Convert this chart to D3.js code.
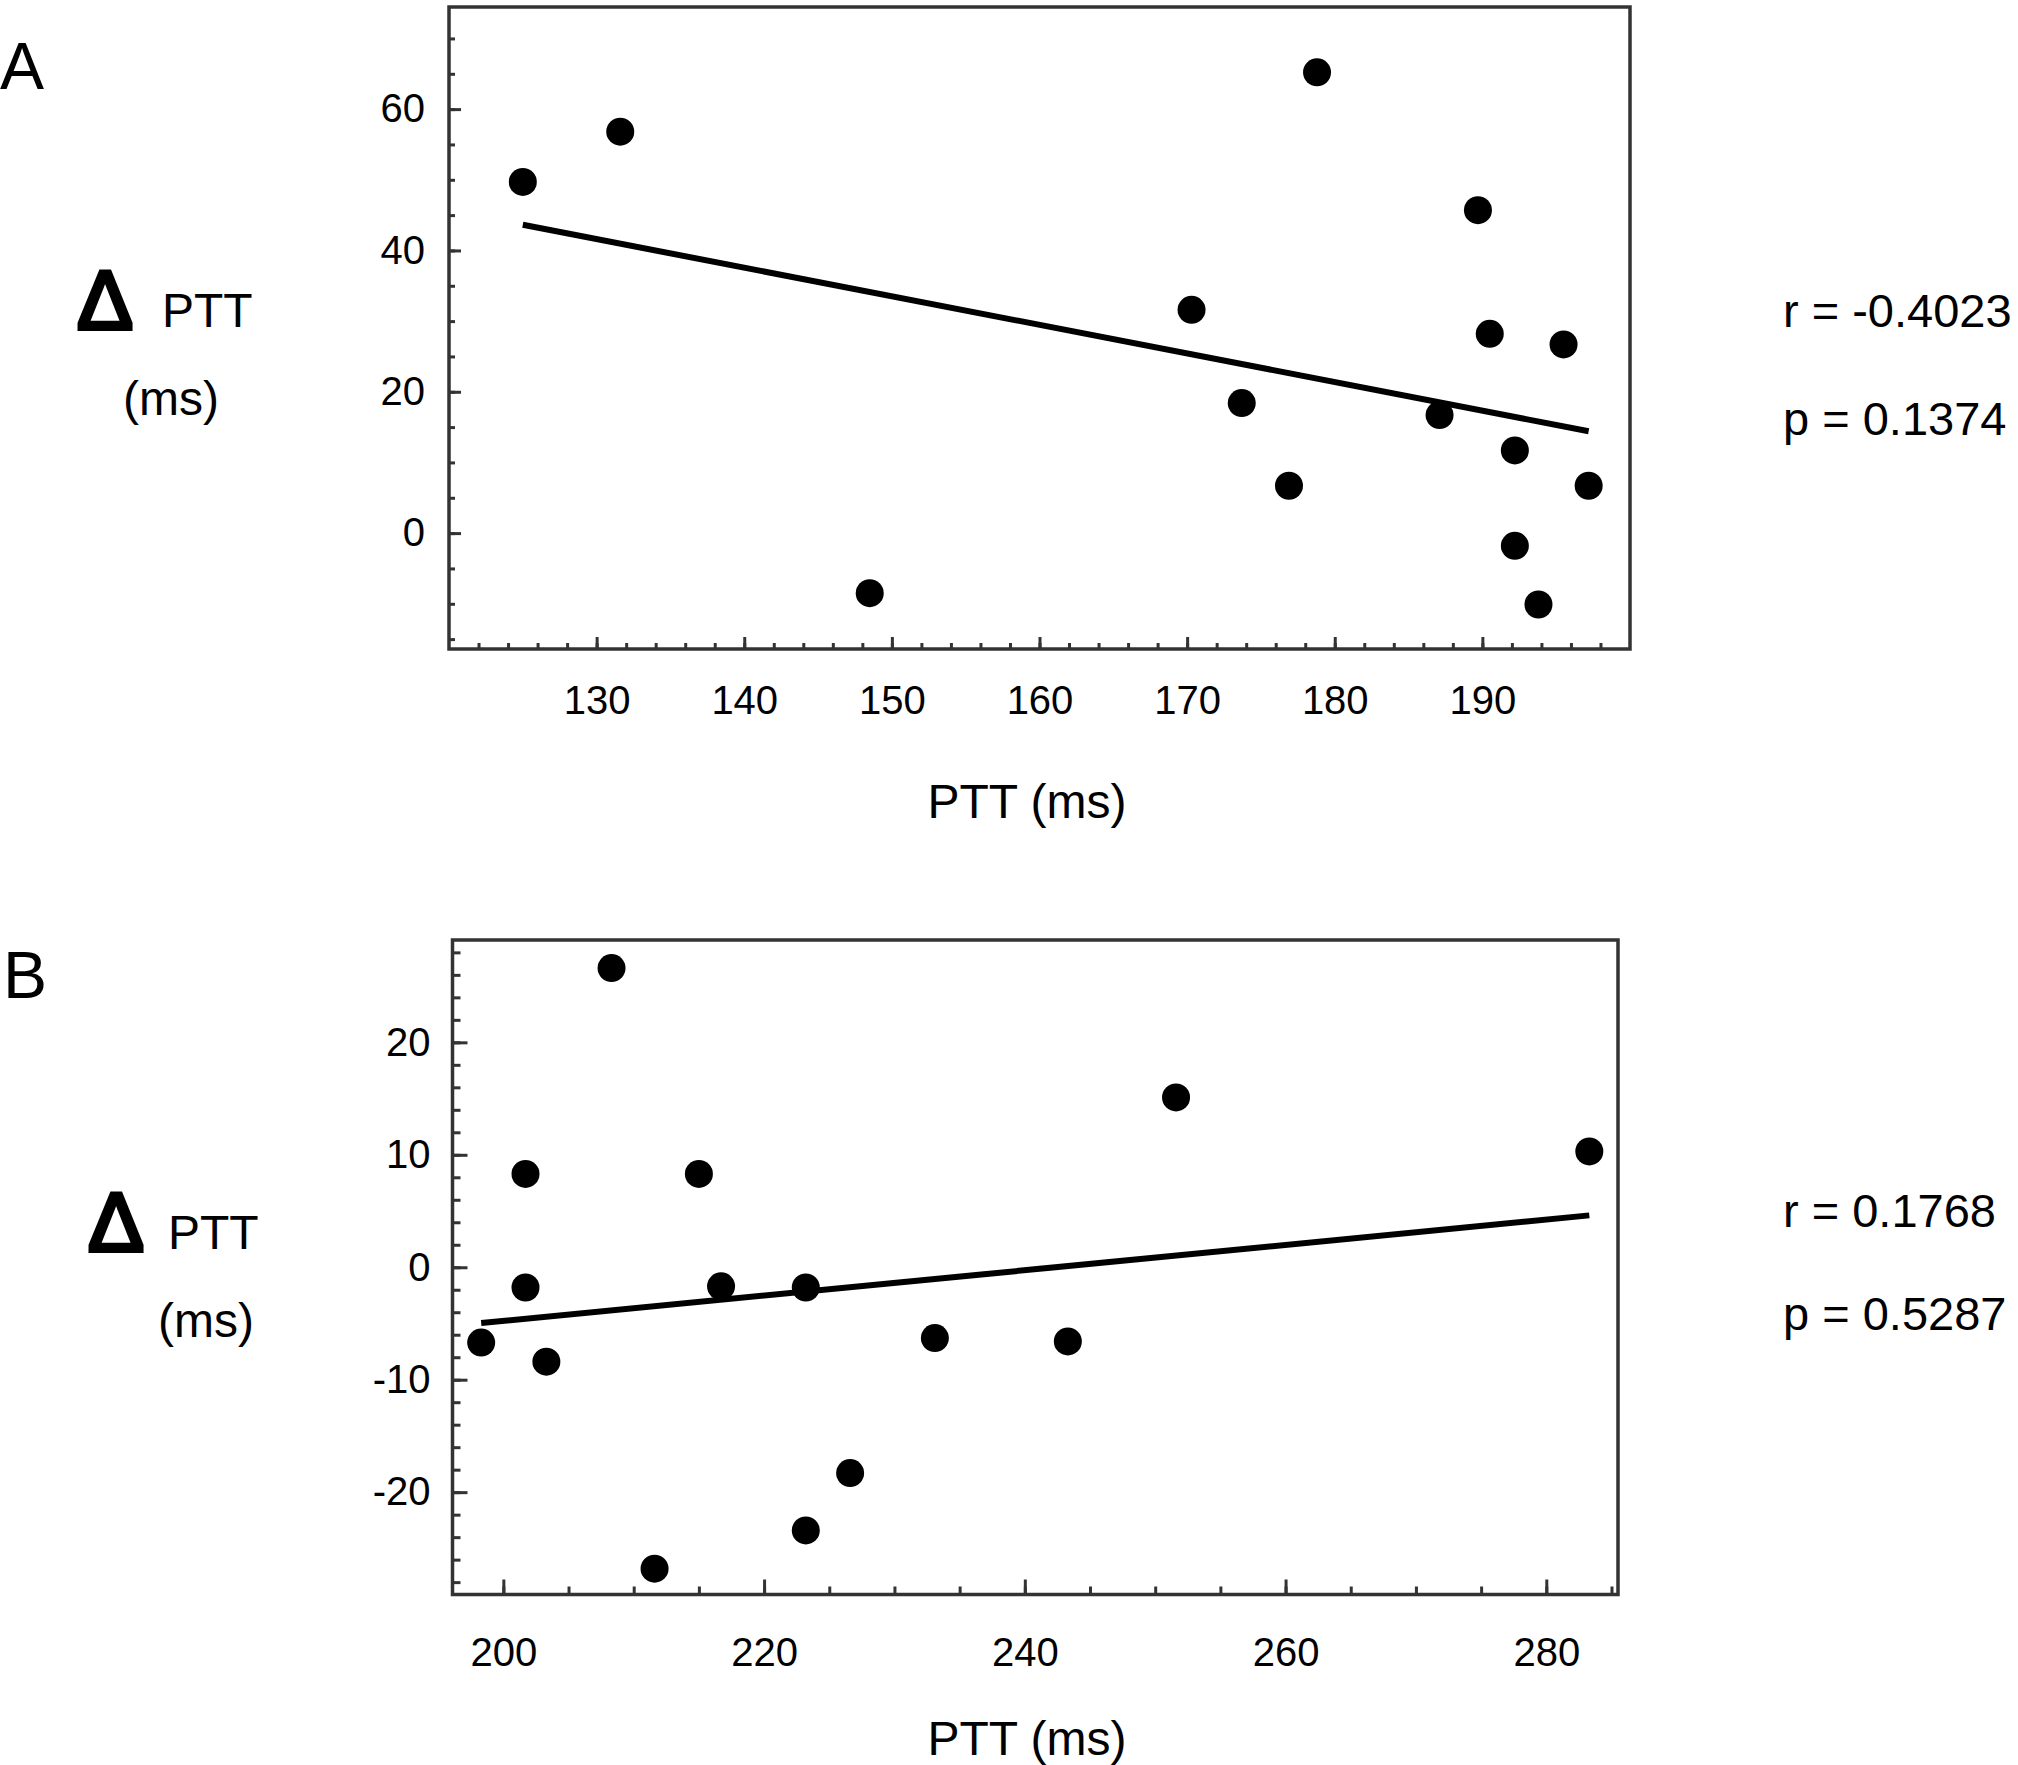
<!DOCTYPE html>
<html>
<head>
<meta charset="utf-8">
<script src="https://cdn.jsdelivr.net/npm/d3@7"></script>
<style>
  body { margin: 0; background: #fff; }
  text { font-family: "Liberation Sans", Arial, sans-serif; fill: #000; }
</style>
</head>
<body>
<script>
// panel A data
var pttA = [125.0, 131.6, 148.5, 170.3, 173.7, 176.9, 178.8, 187.1, 189.7, 190.5, 192.2, 192.2, 193.8, 195.5, 197.2];
var dpttA = [49.7, 56.8, -8.5, 31.6, 18.4, 6.7, 65.2, 16.7, 45.7, 28.2, 11.7, -1.8, -10.1, 26.7, 6.7];
var xTicksA = [130, 140, 150, 160, 170, 180, 190];
var yTicksA = [0, 20, 40, 60];
var statsA = ["r = -0.4023", "p = 0.1374"];

// panel B data
var pttB = [198.3, 201.7, 201.7, 203.3, 208.3, 211.6, 215.0, 216.7, 223.2, 223.2, 226.6, 233.1, 243.3, 251.6, 283.3];
var dpttB = [-6.7, 8.3, -1.8, -8.4, 26.6, -26.8, 8.3, -1.7, -1.8, -23.4, -18.3, -6.3, -6.6, 15.1, 10.3];
var xTicksB = [200, 220, 240, 260, 280];
var yTicksB = [-20, -10, 0, 10, 20];
var statsB = ["r = 0.1768", "p = 0.5287"];

var w = 2018;
var h = 1765;

var svg = d3.select("body").append("svg").attr("width", w).attr("height", h);

function fit(xs, ys) {
  var mx = d3.mean(xs), my = d3.mean(ys);
  var sxy = d3.sum(xs, function (d, i) { return (d - mx) * (ys[i] - my); });
  var sxx = d3.sum(xs, function (d) { return (d - mx) * (d - mx); });
  var b = sxy / sxx;
  return function (x) { return my + b * (x - mx); };
}

// plain hyphen for negatives, like the original figure
function plain(d) { return String(d); }

function panel(p) {
  var xScale = d3.scaleLinear().domain(p.xDomain).range([p.left, p.right]);
  var yScale = d3.scaleLinear().domain(p.yDomain).range([p.bottom, p.top]);
  var g = svg.append("g");

  // minor ticks
  g.append("g")
    .attr("transform", "translate(0," + p.bottom + ")")
    .call(d3.axisBottom(xScale).tickValues(p.xMinor).tickSize(-p.minor).tickFormat(""));
  g.append("g")
    .attr("transform", "translate(" + p.left + ",0)")
    .call(d3.axisLeft(yScale).tickValues(p.yMinor).tickSize(-p.minor).tickFormat(""));

  // major ticks
  var xa = g.append("g")
    .attr("transform", "translate(0," + p.bottom + ")")
    .call(d3.axisBottom(xScale).tickValues(p.xTicks).tickSize(-p.major).tickPadding(p.xPad).tickFormat(plain));
  var ya = g.append("g")
    .attr("transform", "translate(" + p.left + ",0)")
    .call(d3.axisLeft(yScale).tickValues(p.yTicks).tickSize(-p.major).tickPadding(p.yPad).tickFormat(plain));

  g.selectAll(".domain").remove();
  g.selectAll(".tick line").attr("stroke", "#333").attr("stroke-width", 3);
  xa.selectAll("text").attr("font-size", 40).attr("font-family", null);
  ya.selectAll("text").attr("font-size", 40).attr("font-family", null);

  g.append("rect")
    .attr("x", p.left)
    .attr("y", p.top)
    .attr("width", p.right - p.left)
    .attr("height", p.bottom - p.top)
    .attr("fill", "none")
    .attr("stroke", "#333")
    .attr("stroke-width", 3.5);

  // regression line over the data range
  var f = fit(p.xs, p.ys);
  var ext = d3.extent(p.xs);
  g.append("path")
    .attr("d", d3.line()
      .x(function (d) { return xScale(d); })
      .y(function (d) { return yScale(f(d)); })(ext))
    .attr("stroke", "#000")
    .attr("stroke-width", 6)
    .attr("fill", "none");

  g.selectAll("circle")
    .data(p.xs)
    .enter()
    .append("circle")
    .attr("cx", function (d) { return xScale(d); })
    .attr("cy", function (d, i) { return yScale(p.ys[i]); })
    .attr("r", 14)
    .attr("fill", "#000");

  // labels
  g.append("text").attr("x", p.letterX).attr("y", p.letterY).attr("font-size", 66).text(p.letter);
  g.append("text").attr("x", p.deltaX).attr("y", p.deltaY - 2).attr("font-size", 84)
    .attr("stroke", "#000").attr("stroke-width", 4).attr("stroke-linejoin", "miter")
    .attr("text-anchor", "middle").text("Δ");
  g.append("text").attr("x", p.pttX).attr("y", p.deltaY - 4).attr("font-size", 48).text("PTT");
  g.append("text").attr("x", p.msX).attr("y", p.msY).attr("font-size", 48).text("(ms)");
  g.append("text").attr("x", 1027).attr("y", p.xLabelY).attr("font-size", 48)
    .attr("text-anchor", "middle").text("PTT (ms)");

  g.selectAll(".stat")
    .data(p.stats)
    .enter()
    .append("text")
    .attr("class", "stat")
    .attr("x", 1783)
    .attr("y", function (d, i) { return p.statY[i]; })
    .attr("font-size", 47)
    .text(function (d) { return d; });
}

panel({
  xs: pttA, ys: dpttA, xTicks: xTicksA, yTicks: yTicksA, stats: statsA,
  xMinor: d3.range(122, 200, 2), yMinor: d3.range(-15, 75, 5),
  xDomain: [120, 200], yDomain: [-16.4, 74.45],
  left: 449, right: 1630, top: 7, bottom: 649,
  major: 12, minor: 6, xPad: 37, yPad: 24,
  letter: "A", letterX: 0, letterY: 89,
  deltaX: 105, deltaY: 331, pttX: 162, msX: 123, msY: 415,
  xLabelY: 818, statY: [327, 435]
});

panel({
  xs: pttB, ys: dpttB, xTicks: xTicksB, yTicks: yTicksB, stats: statsB,
  xMinor: d3.range(200, 286, 5), yMinor: d3.range(-28, 30, 2),
  xDomain: [196.1, 285.5], yDomain: [-29.1, 29.1],
  left: 452.5, right: 1618, top: 940, bottom: 1594.5,
  major: 15, minor: 8, xPad: 43, yPad: 22,
  letter: "B", letterX: 3, letterY: 998,
  deltaX: 116, deltaY: 1253, pttX: 168, msX: 158, msY: 1337,
  xLabelY: 1755, statY: [1227, 1330]
});
</script>
</body>
</html>
